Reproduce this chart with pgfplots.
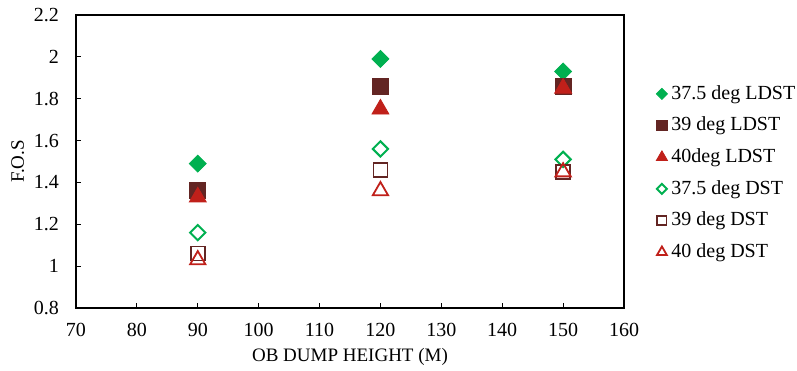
\documentclass[border=0pt]{standalone}
\usepackage{fontspec}
\setmainfont{Liberation Serif}
\usepackage{pgfplots}
\pgfplotsset{compat=1.18}
\definecolor{cgreen}{HTML}{00B050}
\definecolor{cbrown}{HTML}{632523}
\definecolor{cred}{HTML}{C0201A}
\begin{document}
\begin{tikzpicture}
\useasboundingbox (-38pt,-31pt) rectangle (360.5pt,154pt);
\begin{axis}[
  at={(0,0)}, anchor=south west,
  scale only axis, width=274pt, height=146.5pt,
  xmin=70, xmax=160, ymin=0.8, ymax=2.2,
  xtick={70,80,90,100,110,120,130,140,150,160},
  ytick={0.8,1,1.2,1.4,1.6,1.8,2,2.2},
  tick align=inside, xtick pos=bottom, ytick pos=left,
  major tick length=2.5pt,
  axis line style={line width=1pt},
  tick style={line width=0.6pt, black},
  /pgf/number format/assume math mode=true,
  ticklabel style={font=\fontsize{10}{12}\selectfont},
  yticklabel style={xshift=-5pt},
  xticklabel style={yshift=-4pt},
  label style={font=\fontsize{9.5}{11}\selectfont},
  xlabel={OB DUMP HEIGHT (M)}, ylabel={F.O.S},
  xlabel style={yshift=1pt},
  ylabel style={yshift=-2pt},
  legend style={at={(1,1)}, anchor=north west, xshift=16pt, yshift=-33pt,
    draw=none, fill=none, font=\fontsize{10}{12}\selectfont, row sep=3.4pt,
    inner sep=0pt},
  legend cell align=left,
  legend image code/.code={\draw[mark repeat=2,mark phase=2,#1, every mark/.append style={scale=0.65}] plot coordinates {(0pt,0pt)(3pt,0pt)(6pt,0pt)};},
]
\addplot[cgreen, only marks, mark=square*, mark size=3pt, mark options={rotate=45}]
  coordinates {(90,1.49) (120,1.99) (150,1.93)};
\addlegendentry{37.5 deg LDST}
\addplot[cbrown, only marks, mark=square*, mark size=4pt]
  coordinates {(90,1.36) (120,1.86) (150,1.86)};
\addlegendentry{39 deg LDST}
\addplot[cred, only marks, mark=triangle*, mark size=4.9pt]
  coordinates {(90,1.33) (120,1.75) (150,1.85)};
\addlegendentry{40deg LDST}
\addplot[cgreen, only marks, mark=square, mark size=2.7pt, mark options={rotate=45, line width=1pt}]
  coordinates {(90,1.16) (120,1.56) (150,1.51)};
\addlegendentry{37.5 deg DST}
\addplot[cbrown, only marks, mark=square, mark size=3.5pt, mark options={line width=0.9pt}]
  coordinates {(90,1.06) (120,1.46) (150,1.45)};
\addlegendentry{39 deg DST}
\addplot[cred, only marks, mark=triangle, mark size=4.4pt, mark options={line width=0.9pt}]
  coordinates {(90,1.03) (120,1.36) (150,1.45)};
\addlegendentry{40 deg DST}
\end{axis}
\end{tikzpicture}
\end{document}
